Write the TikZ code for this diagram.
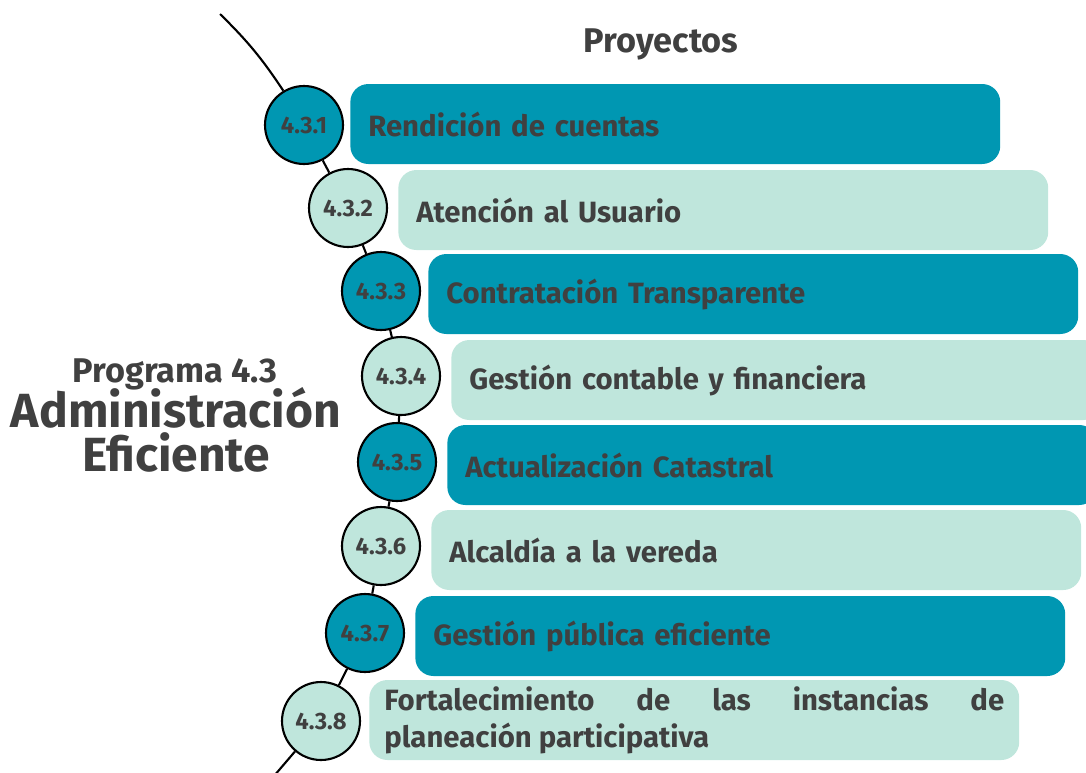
\documentclass[tikz,border=0pt]{standalone}
\usepackage{fontspec}
\setmainfont{Fira Sans}
\definecolor{tealdark}{HTML}{0097B2}
\definecolor{teallight}{HTML}{BFE6DC}
\definecolor{inkgray}{HTML}{404040}
\tikzset{
  barbox/.style={anchor=west,rounded corners=0.36cm,minimum height=1.6cm,
    text width=12.28cm,inner xsep=0.36cm,align=left,text=inkgray,
    font=\fontsize{16.7}{19}\selectfont\bfseries},
  bardark/.style={barbox,fill=tealdark},
  barlight/.style={barbox,fill=teallight},
  numbox/.style={circle,draw=black,line width=1.2pt,minimum size=1.56cm,
    inner sep=0pt,text=inkgray,font=\fontsize{13.5}{15}\selectfont\bfseries},
  numdark/.style={numbox,fill=tealdark},
  numlight/.style={numbox,fill=teallight},
  titletext/.style={anchor=base,text=inkgray,inner sep=0pt},
}
\begin{document}
\begin{tikzpicture}[x=0.02cm,y=-0.02cm]
    \clip (0,0) rectangle (1086,772);
    % proyectos
    \node (b1) at (350,124) [bardark] {Rendición de cuentas};
    \node (b2) at (398,210) [barlight] {Atención al Usuario};
    \node (b3) at (428,294) [bardark] {Contratación Transparente};
    \node (b4) at (451,380) [barlight] {Gestión contable y financiera};
    \node (b5) at (447,465) [bardark] {Actualización Catastral};
    \node (b6) at (431,550) [barlight] {Alcaldía a la vereda};
    \node (b7) at (415,636) [bardark] {Gestión pública eficiente};
    \node (b8) at (369,720) [barlight,align=justify,inner xsep=0.3cm,text width=12.4cm,
      font=\fontsize{16.7}{21}\selectfont\bfseries]
      {Fortalecimiento de las instancias de\linebreak planeación participativa};
    % numeros
    \node (n1) at (304,125) [numdark] {4.3.1};
    \node (n2) at (348,208) [numlight] {4.3.2};
    \node (n3) at (381,291) [numdark] {4.3.3};
    \node (n4) at (401,376) [numlight] {4.3.4};
    \node (n5) at (397,462) [numdark] {4.3.5};
    \node (n6) at (381,546) [numlight] {4.3.6};
    \node (n7) at (365,633) [numdark] {4.3.7};
    \node (n8) at (321,721) [numlight] {4.3.8};
    % linea
    \coordinate (top) at (220,14);
    \coordinate (bot) at (274,776);
    \draw[line width=1.2pt] (top) to[bend left=6] (n1);
    \draw[line width=1.2pt] (n1) -- (n2) (n2) -- (n3) (n3) -- (n4) (n4) -- (n5)
      (n5) -- (n6) (n6) -- (n7) (n7) -- (n8) (n8) -- (bot);
    % titulos
    \node (proy) at (661,52) [titletext,font=\fontsize{19.5}{22}\selectfont\bfseries] {Proyectos};
    \node (prog) at (175,382) [titletext,font=\fontsize{19.5}{22}\selectfont\bfseries] {Programa 4.3};
    \node (adm) at (176,427) [titletext,font=\fontsize{27.3}{30}\selectfont\bfseries] {Administración};
    \node (efi) at (176,471) [titletext,font=\fontsize{27.3}{30}\selectfont\bfseries] {Eficiente};
\end{tikzpicture}
\end{document}
